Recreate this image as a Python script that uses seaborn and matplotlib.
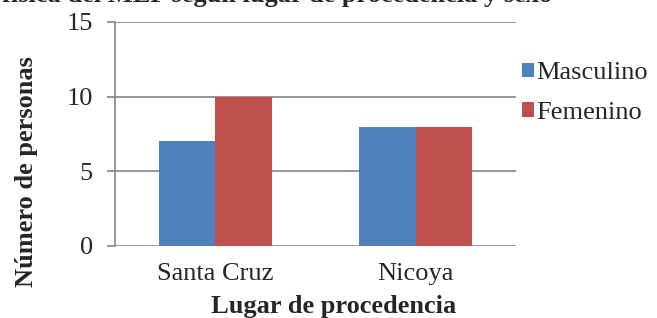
import matplotlib
matplotlib.use("Agg")
import matplotlib.pyplot as plt
import seaborn as sns
import pandas as pd


# ==============================
# DATA
# ==============================

lugares = ["Santa Cruz", "Nicoya"]
masculino = [7, 8]
femenino = [10, 8]
sexos = ["Masculino", "Femenino"]
colores = ["#4F81BD", "#C0504D"]
y_ticks = [0, 5, 10, 15]

df = pd.DataFrame({
    "Lugar": lugares * 2,
    "Personas": masculino + femenino,
    "Sexo": [sexos[0]] * len(lugares) + [sexos[1]] * len(lugares),
})


# ==============================
# STYLE
# ==============================

sns.set_style("white")
plt.rcParams["font.family"] = ["Liberation Serif", "DejaVu Serif"]

FS = 19
GRID = "#8E8E8E"


# ==============================
# PLOT
# ==============================

fig = plt.figure(figsize=(6.57, 3.18), dpi=100)

ax = fig.add_axes([115 / 657, 72 / 318, 401 / 657, 224 / 318])

sns.barplot(
    data=df,
    x="Lugar",
    y="Personas",
    hue="Sexo",
    palette=colores,
    width=0.565,
    saturation=1,
    edgecolor="none",
    ax=ax
)

ax.set_xlim(-0.5, 1.5)
ax.set_ylim(0, 15)
ax.set_yticks(y_ticks)

ax.set_axisbelow(True)
ax.yaxis.grid(True, color=GRID, linewidth=1.3)
ax.xaxis.grid(False)

for side in ["top", "right", "bottom"]:
    ax.spines[side].set_visible(False)
ax.spines["left"].set_color(GRID)
ax.spines["left"].set_linewidth(1.3)

ax.tick_params(
    axis="y",
    left=True,
    length=6,
    width=1.3,
    color=GRID,
    pad=10,
    labelsize=FS
)
ax.tick_params(axis="x", bottom=False, pad=9, labelsize=FS)

ax.set_xlabel("")
ax.set_ylabel("")

fig.text(
    334 / 657, 1 - 313 / 318,
    "Lugar de procedencia",
    ha="center",
    va="baseline",
    fontsize=FS,
    fontweight="bold"
)

fig.text(
    27 / 657, 1 - 172 / 318,
    "Número de personas",
    rotation=90,
    ha="center",
    va="center",
    fontsize=FS,
    fontweight="bold"
)

# title is cut off by the top edge in the original
fig.text(
    552 / 657, 1 - 2 / 318,
    "física del MEP según lugar de procedencia y sexo",
    ha="right",
    va="baseline",
    fontsize=FS,
    fontweight="bold"
)

handles, labels = ax.get_legend_handles_labels()
ax.legend(
    handles,
    labels,
    loc="upper left",
    bbox_to_anchor=(522 / 657, 1 - 62 / 318),
    bbox_transform=fig.transFigure,
    frameon=False,
    fontsize=FS,
    handlelength=0.45,
    handleheight=0.45,
    handletextpad=0.1,
    labelspacing=0.68,
    borderpad=0,
    borderaxespad=0
)

fig.savefig("out.png", dpi=100)
